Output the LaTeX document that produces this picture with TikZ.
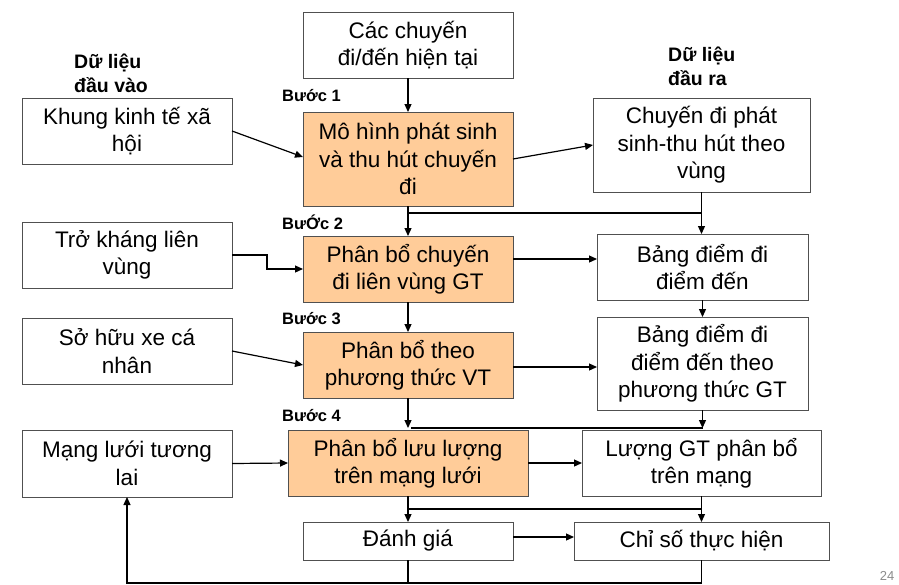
\documentclass[tikz,border=0pt]{standalone}
\usepackage{fontspec}
\setmainfont{Liberation Sans}
\usetikzlibrary{arrows.meta,calc}
\definecolor{boxfill}{RGB}{255,204,153}
\definecolor{bordergray}{RGB}{80,80,80}
\definecolor{pagegray}{RGB}{140,140,140}
\begin{document}
\begin{tikzpicture}[x=1pt,y=-1pt,
  box/.style={draw=bordergray,line width=0.9pt,anchor=north west,inner sep=0pt,outer sep=0pt,
    align=center,font=\fontsize{22.5}{27.5}\selectfont},
  hl/.style={fill=boxfill},
  arr/.style={-{Triangle[length=8pt,width=7pt]},line width=1.2pt},
  ln/.style={line width=1.2pt},
  datalbl/.style={font=\bfseries\fontsize{19.5}{24}\selectfont,align=left,anchor=west,inner sep=0pt},
  steplbl/.style={font=\bfseries\fontsize{16.5}{20}\selectfont,anchor=west,inner sep=0pt}]
\fill[white] (0,0) rectangle (899,584);
\useasboundingbox (0,0) rectangle (899,584);

% boxes
\node[box,minimum width=210pt,minimum height=66pt] (top) at (303,12) {Các chuyến\\đi/đến hiện tại};
\node[box,minimum width=210pt,minimum height=66pt] (khung) at (22,98) {Khung kinh tế xã\\hội};
\node[box,hl,minimum width=210pt,minimum height=94pt] (mohinh) at (303,112) {Mô hình phát sinh\\và thu hút chuyến\\đi};
\node[box,minimum width=217pt,minimum height=94pt] (chuyen) at (593,98) {Chuyến đi phát\\sinh-thu hút theo\\vùng};
\node[box,minimum width=210pt,minimum height=66pt] (trokhang) at (22,222) {Trở kháng liên\\vùng};
\node[box,hl,minimum width=210pt,minimum height=66pt] (pb1) at (303,236) {Phân bổ chuyến\\đi liên vùng GT};
\node[box,minimum width=211pt,minimum height=66pt] (bang1) at (597,234) {Bảng điểm đi\\điểm đến};
\node[box,minimum width=210pt,minimum height=66pt] (sohuu) at (22,318) {Sở hữu xe cá\\nhân};
\node[box,hl,minimum width=210pt,minimum height=66pt] (pb2) at (303,332) {Phân bổ theo\\phương thức VT};
\node[box,minimum width=211pt,minimum height=93pt] (bang2) at (597,317) {Bảng điểm đi\\điểm đến theo\\phương thức GT};
\node[box,minimum width=210pt,minimum height=67pt] (mang) at (22,430) {Mạng lưới tương\\lai};
\node[box,hl,minimum width=240pt,minimum height=66pt] (pb3) at (288,430) {Phân bổ lưu lượng\\trên mạng lưới};
\node[box,minimum width=239pt,minimum height=66pt] (luong) at (582,430) {Lượng GT phân bổ\\trên mạng};
\node[box,minimum width=210pt,minimum height=38pt] (danhgia) at (303,522) {Đánh giá};
\node[box,minimum width=255pt,minimum height=38pt] (chiso) at (574,522) {Chỉ số thực hiện};

% labels
\node[datalbl] (inlbl) at (74,73) {Dữ liệu\\đầu vào};
\node[datalbl] (outlbl) at (668,66) {Dữ liệu\\đầu ra};
\node[steplbl] (s1) at (282,96) {Bước 1};
\node[steplbl] (s2) at (282,222) {BưỚc 2};
\node[steplbl] (s3) at (282,319) {Bước 3};
\node[steplbl] (s4) at (282,416) {Bước 4};
\node[font=\fontsize{13}{15}\selectfont,text=pagegray,inner sep=0pt] (pg) at (887,576) {24};

% step 1
\draw[arr] (top.south) -- (mohinh.north);
\draw[arr] (khung.east) -- ([yshift=2pt]mohinh.west);
\draw[arr] (mohinh.east) -- (chuyen.west);
% step 1 -> 2
\coordinate (j1) at ($(mohinh.south)+(0,7)$);
\draw[arr] (mohinh.south) -- (pb1.north);
\draw[ln] (j1) -- (j1 -| chuyen.south);
\draw[arr] (chuyen.south) -- (bang1.north -| chuyen.south);
% step 2
\draw[arr] (trokhang.east) -- ++(35,0) |- (pb1.west);
\coordinate (a1) at ([yshift=10pt]pb1.east);
\draw[arr] (a1) -- (a1 -| bang1.west);
% step 2 -> 3
\draw[arr] (pb1.south) -- (pb2.north);
\draw[arr] (bang1.south) -- (bang2.north);
% step 3
\draw[arr] (sohuu.east) -- (pb2.west);
\coordinate (a2) at ([yshift=-2pt]pb2.east);
\draw[arr] (a2) -- (a2 -| bang2.west);
% step 3 -> 4
\coordinate (j2) at ($(pb2.south |- pb3.north)+(0,-2)$);
\draw[arr] (pb2.south) -- (j2);
\draw[ln] ($(j2)+(3,0)$) -- (j2 -| bang2.south);
\draw[arr] (bang2.south) -- (j2 -| bang2.south);
% step 4
\draw[arr] (mang.east) -- (pb3.west);
\draw[arr] (pb3.east) -- (luong.west);
% step 4 -> evaluation
\coordinate (j3) at ($(pb3.south)+(0,13)$);
\draw[arr] (pb3.south) -- (danhgia.north);
\draw[ln] (j3) -- (j3 -| luong.south);
\draw[arr] (luong.south) -- (chiso.north -| luong.south);
\coordinate (a3) at ([yshift=4pt]danhgia.east);
\draw[arr] (a3) -- (a3 -| chiso.west);
% feedback
\coordinate (j4) at ($(danhgia.south)+(0,23)$);
\coordinate (fb) at (mang.south |- j4);
\draw[ln] (danhgia.south) -- (j4);
\draw[arr] (chiso.south) |- (fb) -- (mang.south);
\end{tikzpicture}
\end{document}
